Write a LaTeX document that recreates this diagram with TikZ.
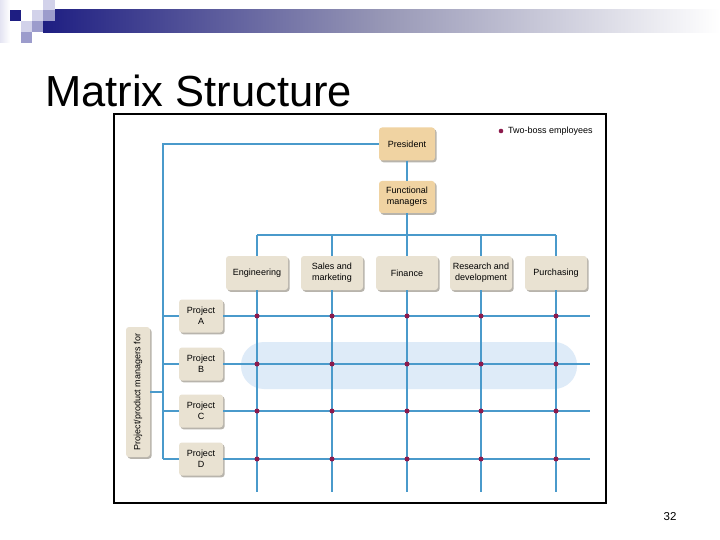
\documentclass[tikz,border=0pt]{standalone}
\usepackage{fontspec}
\setmainfont{Liberation Sans}
\definecolor{navy}{HTML}{1E1E82}
\definecolor{lav1}{HTML}{D2D2EA}
\definecolor{lav2}{HTML}{9C9CCC}
\definecolor{tanbox}{HTML}{F0D3A2}
\definecolor{beigebox}{HTML}{E9E2D2}
\definecolor{shadowgray}{HTML}{B8B4AC}
\definecolor{gridblue}{HTML}{4A9ACB}
\definecolor{dotred}{HTML}{8C1A4C}
\definecolor{hilite}{HTML}{DEEBF8}
\tikzset{
  boxbase/.style={rounded corners=3pt, draw=none, align=center, inner sep=1pt,
    font=\fontsize{9}{11}\selectfont,
    preaction={fill=shadowgray, transform canvas={xshift=1.6pt, yshift=-1.8pt}}},
  topbox/.style={boxbase, fill=tanbox, minimum width=56pt, minimum height=33pt},
  deptbox/.style={boxbase, fill=beigebox, minimum width=62pt, minimum height=34pt},
  projbox/.style={boxbase, fill=beigebox, minimum width=44pt, minimum height=33pt},
  pmbox/.style={boxbase, fill=beigebox, minimum width=130pt, minimum height=24pt, rotate=90},
  link/.style={draw=gridblue, line width=1.15pt},
  twoboss/.style={fill=dotred, draw=none},
}
\begin{document}
\begin{tikzpicture}[x=1pt,y=-1pt]
\useasboundingbox (0,0) rectangle (720,540);
\fill[white] (0,0) rectangle (720,540);
% header decoration
\shade[left color=navy, right color=white, middle color=black!20!lav2!80] (43,10) rectangle (720,33);
\shade[left color=lav1!60, right color=white] (0,0) rectangle (10,43);
\fill[navy] (10,10) rectangle (21,21);
\fill[lav1] (21,21) rectangle (32,32);
\fill[lav2] (21,32) rectangle (32,43);
\fill[lav1] (32,10) rectangle (43,21);
\fill[lav2] (32,21) rectangle (43,32);
\fill[lav2] (43,10) rectangle (55,21);
\fill[lav1] (43,0) rectangle (55,10);
% title
\node[anchor=base west, inner sep=0pt, font=\fontsize{43.5}{50}\selectfont] (title) at (45,107) {Matrix Structure};
% frame
\draw[line width=2pt] (114,114) rectangle (606,503);
% highlight
\fill[hilite, rounded corners=23pt] (241,342) rectangle (577,389);
% legend
\fill[twoboss] (501,131) circle (2.3pt);
\node[anchor=west, inner sep=0pt, font=\fontsize{9}{11}\selectfont] (legend) at (508,131) {Two-boss employees};
% coordinates
\coordinate (lt) at (163,144);
\coordinate (bus) at (407,235);
\coordinate (bot) at (0,492);
\coordinate (rgt) at (590,0);
% nodes
\node[topbox] (pres) at (407,144) {President};
\node[topbox, minimum height=32pt] (fm) at (407,197) {Functional\\managers};
\node[deptbox] (eng) at (257,273) {Engineering};
\node[deptbox] (sales) at (332,273) {Sales and\\marketing};
\node[deptbox] (fin) at (407,273) {Finance};
\node[deptbox] (rd) at (481,273) {Research and\\development};
\node[deptbox] (pur) at (556,273) {Purchasing};
\node[projbox] (pa) at (201,316) {Project\\A};
\node[projbox] (pb) at (201,364) {Project\\B};
\node[projbox] (pc) at (201,411) {Project\\C};
\node[projbox] (pd) at (201,459) {Project\\D};
\node[pmbox] (pm) at (138,392) {Project/product managers for};
% connectors
\draw[link] (pres.west) -- (lt) -- (lt |- pd);
\draw[link] (pres) -- (fm);
\draw[link] (fm) -- (bus);
\draw[link] (eng.north |- bus) -- (pur.north |- bus);
\foreach \d in {eng,sales,fin,rd,pur}{
  \draw[link] (\d.north |- bus) -- (\d.north);
  \draw[link] (\d.south) -- (\d.south |- bot);
}
\foreach \p in {pa,pb,pc,pd}{
  \draw[link] (lt |- \p) -- (\p.west);
  \draw[link] (\p.east) -- (rgt |- \p);
}
\draw[link] (pm.south) -- (lt |- pm.south);
\foreach \d in {eng,sales,fin,rd,pur}{
  \foreach \p in {pa,pb,pc,pd}{
    \fill[twoboss] (\d |- \p) circle (2.5pt);
  }
}
% page number
\node[anchor=base, inner sep=0pt, font=\fontsize{11.5}{13}\selectfont] (page) at (670,520) {32};
\end{tikzpicture}
\end{document}
